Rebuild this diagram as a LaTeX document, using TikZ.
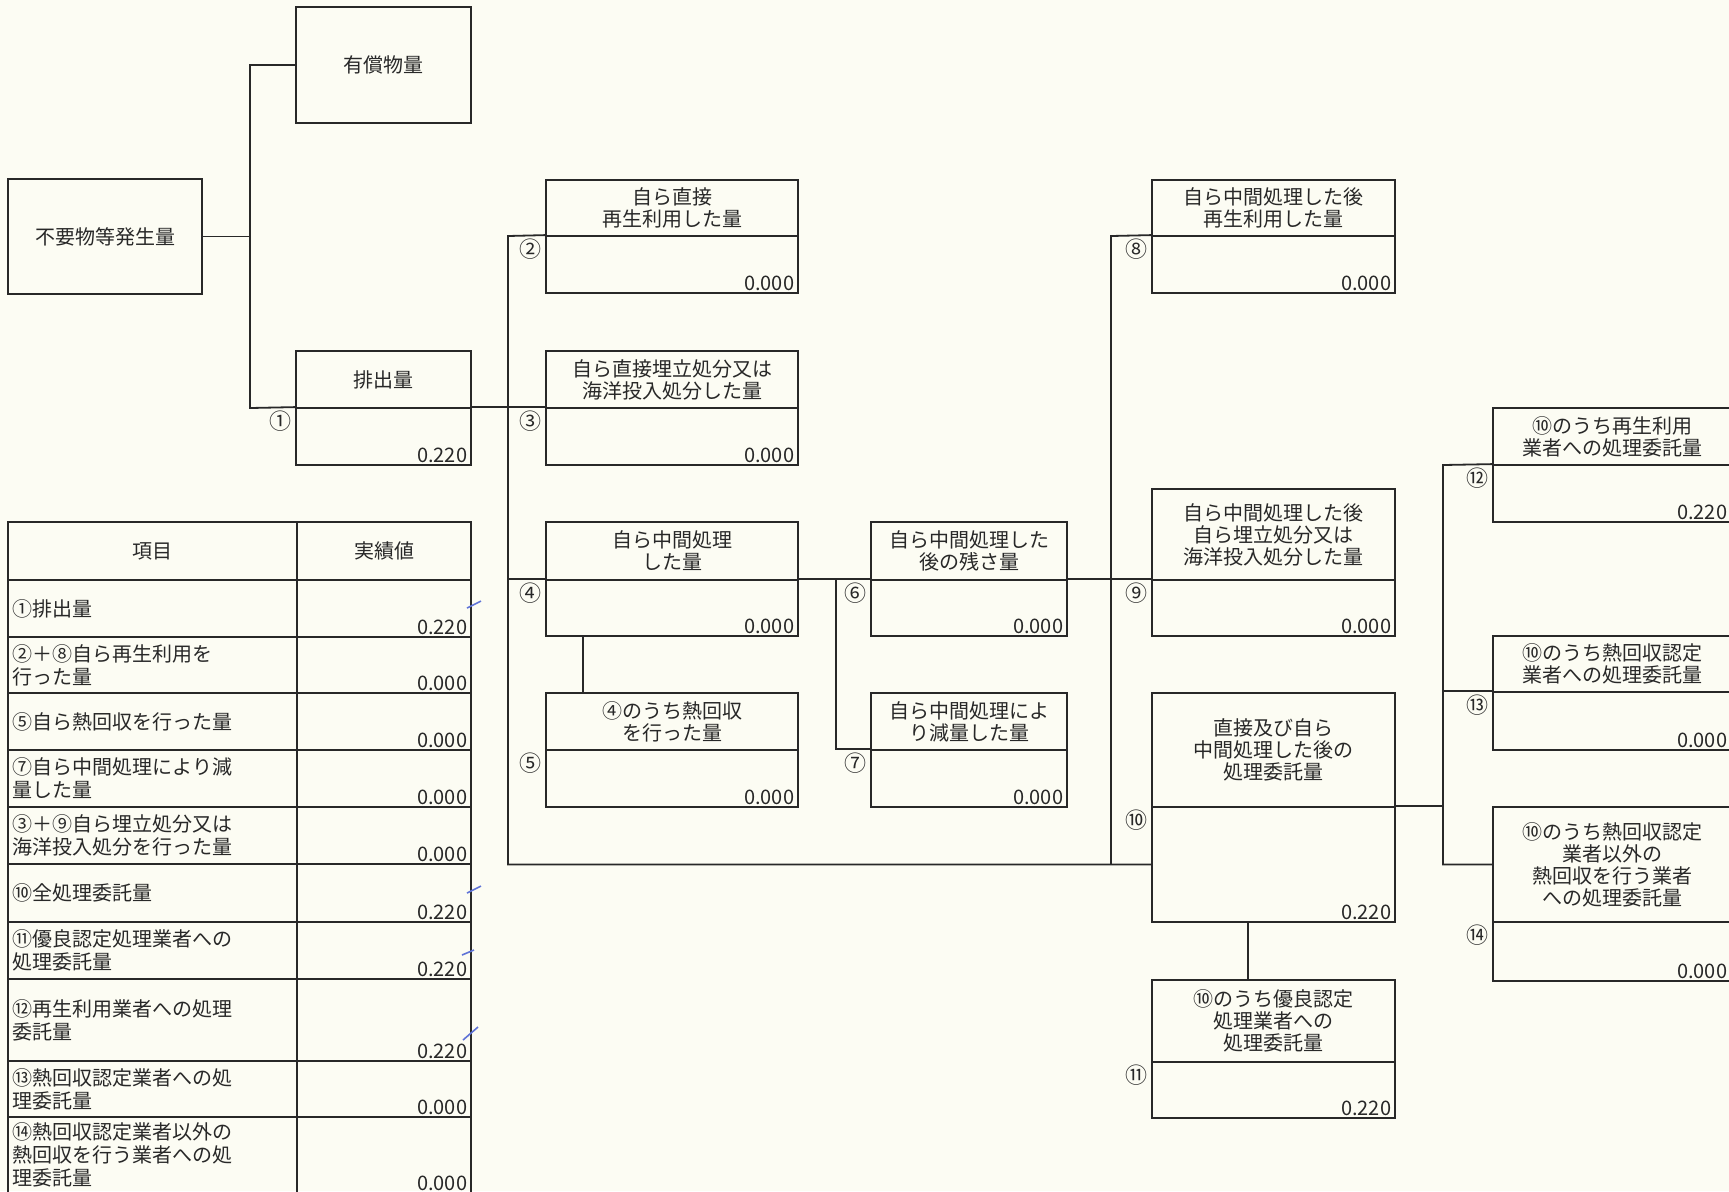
\documentclass[tikz,border=0pt]{standalone}
\usepackage{fontspec}
\setmainfont{Noto Sans CJK JP}
\usepackage{tikz}
\usetikzlibrary{fit}

\definecolor{paper}{RGB}{252,252,243}
\definecolor{ink}{RGB}{40,40,40}
\definecolor{pen}{RGB}{95,115,215}

\begin{document}
\begin{tikzpicture}[x=0.5pt,y=-0.5pt,
	box/.style={draw=ink,line width=0.9pt,inner sep=0pt},
	title/.style={align=center,inner sep=0pt,text=ink,font=\fontsize{10}{11}\selectfont},
	itemtext/.style={anchor=west,text width=139.5pt,align=left,inner xsep=2.5pt,inner ysep=0pt,text=ink,font=\fontsize{10}{11.5}\selectfont},
	qty/.style={anchor=south east,inner xsep=2.2pt,inner ysep=1.6pt,text=ink,font=\fontsize{10}{11}\selectfont},
	num/.style={anchor=north east,inner xsep=1.5pt,inner ysep=1.5pt,text=ink,font=\fontsize{11}{12}\selectfont},
	link/.style={draw=ink,line width=0.9pt}]
	\path[use as bounding box,fill=paper] (0,0) rectangle (1729,1191);
	\clip (0,0) rectangle (1729,1191);

	% generation and discharge
	\node[box,fit={(8,179) (202,294)},label={[title]center:不要物等発生量}] (gen) {};
	\node[box,fit={(296,7) (471,123)},label={[title]center:有償物量}] (sold) {};
	\node[box,fit={(296,351) (471,408)},label={[title]center:排出量}] (t1) {};
	\node[box,fit={(296,408) (471,465)},label={[qty]south east:0.220},label={[num]north west:①}] (v1) {};

	% direct treatment
	\node[box,fit={(546,180) (798,236)},label={[title]center:{自ら直接\\再生利用した量}}] (t2) {};
	\node[box,fit={(546,236) (798,293)},label={[qty]south east:0.000},label={[num]north west:②}] (v2) {};
	\node[box,fit={(546,351) (798,408)},label={[title]center:{自ら直接埋立処分又は\\海洋投入処分した量}}] (t3) {};
	\node[box,fit={(546,408) (798,465)},label={[qty]south east:0.000},label={[num]north west:③}] (v3) {};
	\node[box,fit={(546,522) (798,580)},label={[title]center:{自ら中間処理\\した量}}] (t4) {};
	\node[box,fit={(546,580) (798,636)},label={[qty]south east:0.000},label={[num]north west:④}] (v4) {};
	\node[box,fit={(546,693) (798,750)},label={[title]center:{④のうち熱回収\\を行った量}}] (t5) {};
	\node[box,fit={(546,750) (798,807)},label={[qty]south east:0.000},label={[num]north west:⑤}] (v5) {};

	% after intermediate treatment
	\node[box,fit={(871,522) (1067,580)},label={[title]center:{自ら中間処理した\\後の残さ量}}] (t6) {};
	\node[box,fit={(871,580) (1067,636)},label={[qty]south east:0.000},label={[num]north west:⑥}] (v6) {};
	\node[box,fit={(871,693) (1067,750)},label={[title]center:{自ら中間処理によ\\り減量した量}}] (t7) {};
	\node[box,fit={(871,750) (1067,807)},label={[qty]south east:0.000},label={[num]north west:⑦}] (v7) {};
	\node[box,fit={(1152,180) (1395,236)},label={[title]center:{自ら中間処理した後\\再生利用した量}}] (t8) {};
	\node[box,fit={(1152,236) (1395,293)},label={[qty]south east:0.000},label={[num]north west:⑧}] (v8) {};
	\node[box,fit={(1152,489) (1395,580)},label={[title]center:{自ら中間処理した後\\自ら埋立処分又は\\海洋投入処分した量}}] (t9) {};
	\node[box,fit={(1152,580) (1395,636)},label={[qty]south east:0.000},label={[num]north west:⑨}] (v9) {};
	\node[box,fit={(1152,693) (1395,807)},label={[title]center:{直接及び自ら\\中間処理した後の\\処理委託量}}] (t10) {};
	\node[box,fit={(1152,807) (1395,922)},label={[qty]south east:0.220},label={[num]north west:⑩}] (v10) {};
	\node[box,fit={(1152,980) (1395,1062)},label={[title]center:{⑩のうち優良認定\\処理業者への\\処理委託量}}] (t11) {};
	\node[box,fit={(1152,1062) (1395,1118)},label={[qty]south east:0.220},label={[num]north west:⑪}] (v11) {};

	% consignment
	\node[box,fit={(1493,408) (1731,465)},label={[title]center:{⑩のうち再生利用\\業者への処理委託量}}] (t12) {};
	\node[box,fit={(1493,465) (1731,522)},label={[qty]south east:0.220},label={[num]north west:⑫}] (v12) {};
	\node[box,fit={(1493,636) (1731,692)},label={[title]center:{⑩のうち熱回収認定\\業者への処理委託量}}] (t13) {};
	\node[box,fit={(1493,692) (1731,750)},label={[qty]south east:0.000},label={[num]north west:⑬}] (v13) {};
	\node[box,fit={(1493,807) (1731,922)},label={[title]center:{⑩のうち熱回収認定\\業者以外の\\熱回収を行う業者\\への処理委託量}}] (t14) {};
	\node[box,fit={(1493,922) (1731,981)},label={[qty]south east:0.000},label={[num]north west:⑭}] (v14) {};

	% connectors
	\coordinate (bus0) at (250,408);
	\coordinate (bus1) at (508,236);
	\coordinate (bus2) at (836,580);
	\coordinate (bus3) at (1111,236);
	\coordinate (bus4) at (1443,465);
	\draw[link] (gen.east) -- (gen.east -| bus0);
	\draw[link] (sold.west) -| (bus0) -- (v1.north west);
	\draw[link] (v1.north east) -- (v3.north west);
	\draw[link] (v2.north west) -- (bus1) -- (bus1 |- v10.west) -- (v10.west);
	\draw[link] (bus1 |- v4.north west) -- (v4.north west);
	\draw[link] (v4.north east) -- (v6.north west);
	\draw[link] (v6.north east) -- (v9.north west);
	\draw[link] ([xshift=19pt]v4.south west) -- ([xshift=19pt]t5.north west);
	\draw[link] (bus2) |- (v7.north west);
	\draw[link] (v8.north west) -- (bus3) -- (bus3 |- v10.west);
	\draw[link] ([xshift=48.5pt]v10.south west) -- ([xshift=48.5pt]t11.north west);
	\draw[link] (v10.north east) -- (bus4 |- v10.north east);
	\draw[link] (v12.north west) -- (bus4) |- (t14.west);
	\draw[link] (bus4 |- v13.north west) -- (v13.north west);

	% summary table
	\node[box,fit={(8,522) (297,580)},label={[title]center:項目}] (hd1) {};
	\node[box,fit={(297,522) (471,580)},label={[title]center:実績値}] (hd2) {};
	\node[box,fit={(8,580) (297,637)},label={[itemtext]west:①排出量}] (it1) {};
	\node[box,fit={(297,580) (471,637)},label={[qty]south east:0.220}] (rv1) {};
	\node[box,fit={(8,637) (297,693)},label={[itemtext]west:{②＋⑧自ら再生利用を\\行った量}}] (it2) {};
	\node[box,fit={(297,637) (471,693)},label={[qty]south east:0.000}] (rv2) {};
	\node[box,fit={(8,693) (297,750)},label={[itemtext]west:⑤自ら熱回収を行った量}] (it3) {};
	\node[box,fit={(297,693) (471,750)},label={[qty]south east:0.000}] (rv3) {};
	\node[box,fit={(8,750) (297,807)},label={[itemtext]west:{⑦自ら中間処理により減\\量した量}}] (it4) {};
	\node[box,fit={(297,750) (471,807)},label={[qty]south east:0.000}] (rv4) {};
	\node[box,fit={(8,807) (297,864)},label={[itemtext]west:{③＋⑨自ら埋立処分又は\\海洋投入処分を行った量}}] (it5) {};
	\node[box,fit={(297,807) (471,864)},label={[qty]south east:0.000}] (rv5) {};
	\node[box,fit={(8,864) (297,922)},label={[itemtext]west:⑩全処理委託量}] (it6) {};
	\node[box,fit={(297,864) (471,922)},label={[qty]south east:0.220}] (rv6) {};
	\node[box,fit={(8,922) (297,979)},label={[itemtext]west:{⑪優良認定処理業者への\\処理委託量}}] (it7) {};
	\node[box,fit={(297,922) (471,979)},label={[qty]south east:0.220}] (rv7) {};
	\node[box,fit={(8,979) (297,1061)},label={[itemtext]west:{⑫再生利用業者への処理\\委託量}}] (it8) {};
	\node[box,fit={(297,979) (471,1061)},label={[qty]south east:0.220}] (rv8) {};
	\node[box,fit={(8,1061) (297,1117)},label={[itemtext]west:{⑬熱回収認定業者への処\\理委託量}}] (it9) {};
	\node[box,fit={(297,1061) (471,1117)},label={[qty]south east:0.000}] (rv9) {};
	\node[box,fit={(8,1117) (297,1193)},label={[itemtext]west:{⑭熱回収認定業者以外の\\熱回収を行う業者への処\\理委託量}}] (it10) {};
	\node[box,fit={(297,1117) (471,1193)},label={[qty]south east:0.000}] (rv10) {};

	% pen ticks
	\draw[pen,line width=0.8pt] (467,608) -- (481,601);
	\draw[pen,line width=0.8pt] (467,893) -- (481,886);
	\draw[pen,line width=0.8pt] (462,955) -- (474,950);
	\draw[pen,line width=0.8pt] (463,1040) -- (478,1027);
\end{tikzpicture}
\end{document}
